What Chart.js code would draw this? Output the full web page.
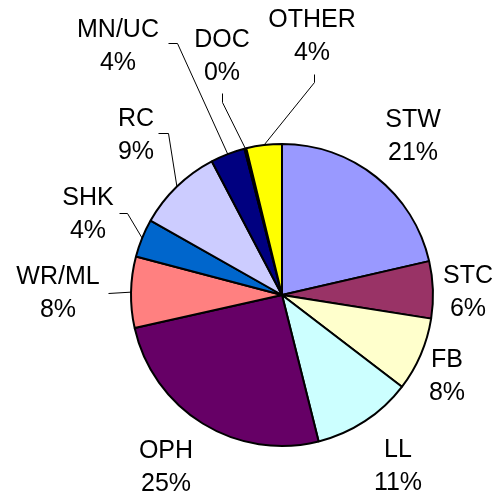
<!DOCTYPE html>
<html>
<head>
<meta charset="utf-8">
<script src="https://cdn.jsdelivr.net/npm/chart.js@4"></script>
<style>
  html, body { margin: 0; padding: 0; background: #fff; }
  canvas { display: block; }
</style>
</head>
<body>
<canvas id="pieChart" width="498" height="501"></canvas>
<script>
const categories = ["STW", "STC", "FB", "LL", "OPH", "WR/ML", "SHK", "RC", "MN/UC", "DOC", "OTHER"];
const shares = [21.4, 6.1, 7.9, 10.7, 25.4, 7.6, 4.1, 9.1, 3.7, 0.2, 3.8];
const sliceColors = ["#9999FF", "#993366", "#FFFFCC", "#CCFFFF", "#660066", "#FF8080",
                     "#0066CC", "#CCCCFF", "#000080", "#FF00FF", "#FFFF00"];

// where each label sits (centre x, first baseline y) and the elbow of its leader line
const labelLayout = {
  "STW":   { x: 413, y: 127 },
  "STC":   { x: 468, y: 283 },
  "FB":    { x: 447, y: 367 },
  "LL":    { x: 398, y: 457 },
  "OPH":   { x: 166, y: 458 },
  "WR/ML": { x: 58,  y: 284, leader: [[108, 293]] },
  "SHK":   { x: 88,  y: 205, leader: [[119, 213], [127, 213]] },
  "RC":    { x: 136, y: 126, leader: [[158, 133], [168, 133]] },
  "MN/UC": { x: 118, y: 37,  leader: [[168, 43], [177, 43]] },
  "DOC":   { x: 222, y: 47,  leader: [[222, 93], [222, 102]] },
  "OTHER": { x: 312, y: 27,  leader: [[314, 74], [314, 82]] }
};

const lineGap = 32.5;
const total = shares.reduce((a, b) => a + b, 0);

const pieLabels = {
  id: "pieLabels",
  afterDraw(chart) {
    const ctx = chart.ctx;
    const arcs = chart.getDatasetMeta(0).data;
    ctx.save();
    ctx.strokeStyle = "#000";
    ctx.lineWidth = 1;
    ctx.fillStyle = "#000";
    ctx.font = '25px "Liberation Sans", Arial, sans-serif';
    ctx.textAlign = "center";
    ctx.textBaseline = "alphabetic";
    arcs.forEach((arc, i) => {
      const name = categories[i];
      const lay = labelLayout[name];
      const p = arc.getProps(["x", "y", "startAngle", "endAngle", "outerRadius"], true);
      const mid = (p.startAngle + p.endAngle) / 2;
      if (lay.leader) {
        const ex = p.x + Math.cos(mid) * p.outerRadius;
        const ey = p.y + Math.sin(mid) * p.outerRadius;
        ctx.beginPath();
        ctx.moveTo(lay.leader[0][0] + 0.5, lay.leader[0][1] + 0.5);
        lay.leader.slice(1).forEach(pt => ctx.lineTo(pt[0] + 0.5, pt[1] + 0.5));
        ctx.lineTo(ex, ey);
        ctx.stroke();
      }
      const pct = Math.round(shares[i] / total * 100) + "%";
      ctx.fillText(name, lay.x, lay.y);
      ctx.fillText(pct, lay.x, lay.y + lineGap);
    });
    ctx.restore();
  }
};

new Chart(document.getElementById("pieChart").getContext("2d"), {
  type: "pie",
  data: {
    labels: categories,
    datasets: [{
      data: shares,
      backgroundColor: sliceColors,
      borderColor: "#000",
      borderWidth: 2
    }]
  },
  options: {
    responsive: false,
    animation: false,
    layout: { padding: { left: 130, top: 143, right: 64, bottom: 54 } },
    plugins: {
      legend: { display: false },
      tooltip: { enabled: false }
    }
  },
  plugins: [pieLabels]
});
</script>
</body>
</html>
